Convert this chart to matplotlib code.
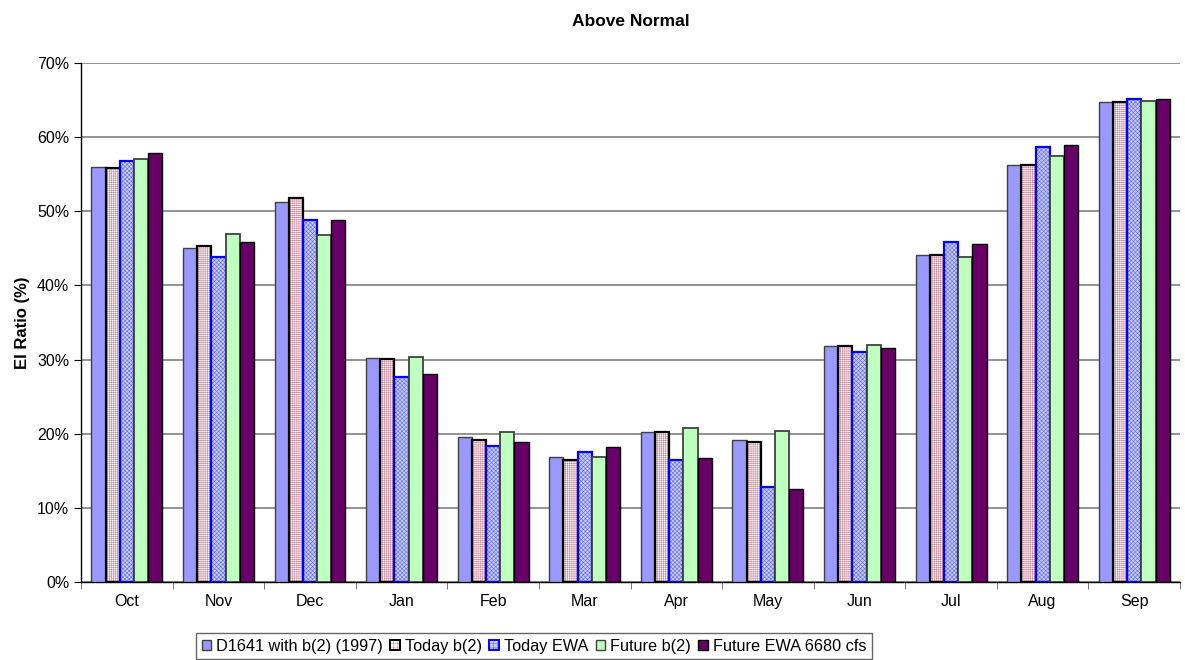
import numpy as np
import matplotlib
matplotlib.use("Agg")
import matplotlib.pyplot as plt
from matplotlib.patches import Patch
from matplotlib.ticker import PercentFormatter

plt.rcParams["font.family"] = ["Liberation Sans", "DejaVu Sans"]
plt.rcParams["hatch.linewidth"] = 0.4

months = ["Oct", "Nov", "Dec", "Jan", "Feb", "Mar", "Apr", "May", "Jun", "Jul", "Aug", "Sep"]
series = ["D1641 with b(2) (1997)", "Today b(2)", "Today EWA", "Future b(2)", "Future EWA 6680 cfs"]
d1641      = [56.0, 45.1, 51.3, 30.2, 19.5, 16.9, 20.2, 19.2, 31.8, 44.1, 56.2, 64.7]
today_b2   = [55.8, 45.3, 51.8, 30.1, 19.2, 16.5, 20.2, 18.9, 31.8, 44.1, 56.2, 64.7]
today_ewa  = [56.8, 43.8, 48.8, 27.6, 18.4, 17.5, 16.5, 12.8, 31.0, 45.9, 58.7, 65.1]
future_b2  = [57.0, 47.0, 46.8, 30.3, 20.2, 16.8, 20.8, 20.3, 32.0, 43.9, 57.5, 64.9]
future_ewa = [57.8, 45.9, 48.8, 28.0, 18.9, 18.2, 16.7, 12.5, 31.5, 45.6, 58.9, 65.1]
values = [d1641, today_b2, today_ewa, future_b2, future_ewa]

# face, hatch colour, hatch, edge, edge width
styles = [
    ("#9999ff", None, None, "#404040", 1.0),
    ("white", "#cc8899", "++++++++", "black", 1.6),
    ("#c8c8ff", "#6070d0", "xxxxxxxx", "#0000ff", 1.6),
    ("#bfffbf", None, None, "#404040", 1.3),
    ("#660066", None, None, "black", 1.0),
]

fig = plt.figure(figsize=(11.85, 6.6), dpi=100)
ax = fig.add_axes([0.0684, 0.1182, 0.9274, 0.7863])

x = np.arange(len(months))
w = 0.155
for i, (vals, (fc, hc, hatch, ec, lw)) in enumerate(zip(values, styles)):
    pos = x + (i - 2) * w
    if hatch:
        # hatch colour follows edgecolor, so draw hatch and outline separately
        ax.bar(pos, vals, w, color=fc, edgecolor=hc, hatch=hatch, linewidth=0, zorder=2)
        ax.bar(pos, vals, w, fill=False, edgecolor=ec, linewidth=lw, zorder=3)
    else:
        ax.bar(pos, vals, w, color=fc, edgecolor=ec, linewidth=lw, zorder=3)

ax.set_xlim(-0.5, len(months) - 0.5)
ax.set_ylim(0, 70)
ax.set_yticks(np.arange(0, 71, 10))
ax.yaxis.set_major_formatter(PercentFormatter(decimals=0))
ax.set_xticks(x)
ax.set_xticklabels(months, fontsize=11.5)
ax.set_xticks(np.arange(-0.5, len(months), 1), minor=True)
ax.tick_params(axis="x", which="major", length=0, pad=9)
ax.tick_params(axis="x", which="minor", length=5, color="#606060")
ax.tick_params(axis="y", length=5, labelsize=11.5, color="black")
ax.grid(axis="y", color="#808080", linewidth=1.2, zorder=0)
ax.spines["top"].set_visible(False)
ax.spines["right"].set_visible(False)
ax.spines["left"].set_linewidth(1.0)
ax.spines["bottom"].set_linewidth(1.0)
ax.set_ylabel("EI Ratio (%)", fontsize=12, fontweight="bold", labelpad=5)
ax.set_title("Above Normal", fontsize=12.5, fontweight="bold", pad=27)

handles = []
for fc, hc, hatch, ec, lw in styles:
    if hatch:
        handles.append((Patch(facecolor=fc, edgecolor=hc, hatch="++++", linewidth=0),
                        Patch(fill=False, edgecolor=ec, linewidth=1.4)))
    else:
        handles.append(Patch(facecolor=fc, edgecolor=ec, linewidth=1.0))
leg = fig.legend(handles, series, loc="upper center", bbox_to_anchor=(0.4506, 0.041), ncol=5,
                 fontsize=11.7, frameon=True, fancybox=False, edgecolor="#404040",
                 handlelength=0.6, handleheight=0.6, handletextpad=0.3, columnspacing=0.45,
                 borderpad=0.35, borderaxespad=0)
leg.get_frame().set_linewidth(1.0)

fig.savefig("out.png", dpi=100)
